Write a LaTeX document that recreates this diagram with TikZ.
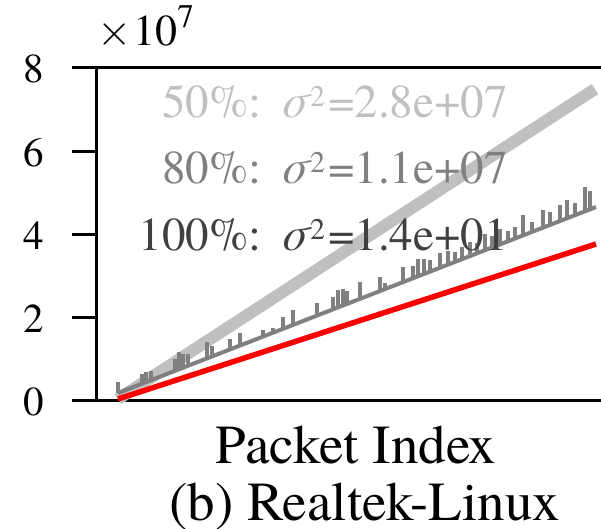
\documentclass[tikz,border=0pt]{standalone}
\usepackage{fontspec}
\setmainfont{texgyretermes}[Extension=.otf,UprightFont=*-regular,ItalicFont=*-italic,BoldFont=*-bold]
\newfontfamily\lmfont{lmroman10-regular}[Extension=.otf]
\usepackage{xcolor}
\usepackage{tikz}
\usetikzlibrary{calc}

\definecolor{fiftygray}{HTML}{C0C0C0}
\definecolor{eightygray}{HTML}{808080}
\definecolor{fullgray}{HTML}{404040}
\newcommand{\upidx}[1]{\raisebox{11pt}{\fontsize{30}{30}\selectfont #1}}
\newcommand{\sigsq}{\hspace{19pt}{\itshape σ}\hspace{2pt}\upidx{2}\hspace{3pt}}

\begin{document}
\begin{tikzpicture}[x=1pt,y=-1pt,
        axisline/.style={black,line width=3pt},
        ticklabel/.style={font=\fontsize{41}{45}\selectfont},
        legendtext/.style={anchor=base east,font=\fontsize{47}{50}\selectfont},
        bigtext/.style={anchor=base,font=\fontsize{55}{60}\selectfont}]
                \tikzstyle{every node}+=[inner sep=0pt]
                \useasboundingbox (0,0) rectangle (601,528);
                % axes
                \coordinate (top) at (96,67);
                \coordinate (orig) at (96,400);
                \draw [axisline] (72,67) -- (601,67);
                \draw [axisline] (72,400) -- (601,400);
                \draw [axisline] (top) -- (orig);
                \foreach \v/\yy in {0/400,2/317,4/234,6/151,8/67} {
                    \draw [axisline] (72,\yy) -- (96,\yy);
                    \node [ticklabel] (ylab\v) at (34,\yy+2) {\v};
                }
                \node [anchor=base west,font=\fontsize{44}{48}\selectfont] (mult) at (97,45) {{\lmfont ×}\kern2pt10\raisebox{18pt}{\fontsize{33}{33}\selectfont 7}};
                % curves
                \coordinate (first) at (118,399);
                \draw [fiftygray, line width=12pt] (first) -- (595,89);
                \draw [eightygray, line width=4pt] (118,393) -- (596,207);
                \foreach \sx/\sh in {118/11,142/10,146/10,151/9,175/12,179/17,183/14,188/12,
                    207/16,212/10,230/10,240/13,263/7,273/5,283/12,293/15,317/13,333/12,
                    338/17,343/16,347/13,360/17,380/14,385/6,403/15,413/12,418/17,424/15,
                    430/12,440/15,448/14,455/10,462/12,470/14,477/10,485/16,492/12,500/15,
                    508/10,515/12,523/20,532/10,543/18,550/13,560/16,567/18,575/12,585/24,590/18} {
                    \draw [eightygray, line width=4.5pt] (\sx,{393-(\sx-118)*0.389}) -- ++(0,-\sh);
                }
                \draw [red, line width=5.5pt] (first) -- (596,244);
                % legend
                \node [legendtext, fiftygray] (fifty) at (508,117) {50\%:\sigsq=2.8e+07};
                \node [legendtext, eightygray] (eighty) at (508,183) {80\%:\sigsq=1.1e+07};
                \node [legendtext, fullgray] (full) at (508,250) {100\%:\sigsq=1.4e+01};
                % labels
                \node [bigtext] (xlab) at (356,463) {Packet Index};
                \node [bigtext] (caption) at (365,520) {(b) Realtek-Linux};
\end{tikzpicture}
\end{document}
